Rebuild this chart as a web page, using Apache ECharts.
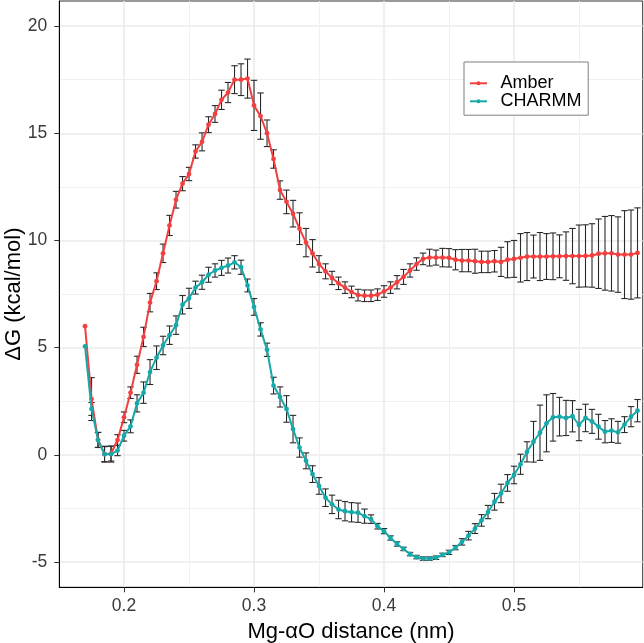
<!DOCTYPE html>
<html><head><meta charset="utf-8">
<script src="https://cdn.jsdelivr.net/npm/echarts@6/dist/echarts.min.js"></script>
<style>html,body{margin:0;padding:0;background:#fff}#c{width:644px;height:643px}</style>
</head><body><div id="c"></div>
<script>
// Mg-αO distance (nm)
const distance = [0.170,0.175,0.180,0.185,0.190,0.195,0.200,0.205,0.210,0.215,
0.220,0.225,0.230,0.235,0.240,0.245,0.250,0.255,0.260,0.265,
0.270,0.275,0.280,0.285,0.290,0.295,0.300,0.305,0.310,0.315,
0.320,0.325,0.330,0.335,0.340,0.345,0.350,0.355,0.360,0.365,
0.370,0.375,0.380,0.385,0.390,0.395,0.400,0.405,0.410,0.415,
0.420,0.425,0.430,0.435,0.440,0.445,0.450,0.455,0.460,0.465,
0.470,0.475,0.480,0.485,0.490,0.495,0.500,0.505,0.510,0.515,
0.520,0.525,0.530,0.535,0.540,0.545,0.550,0.555,0.560,0.565,
0.570,0.575,0.580,0.585,0.590,0.595];

const amberG = [6.0,2.6,0.7,0.03,0.06,0.69,1.75,2.9,4.2,5.5,
7.1,8.1,9.4,10.7,11.9,12.65,13.1,14.15,14.6,15.4,
15.9,16.56,16.9,17.5,17.5,17.55,16.3,15.8,15.0,13.8,
12.35,11.8,11.25,10.55,9.9,9.4,8.9,8.56,8.25,8.0,
7.8,7.6,7.45,7.42,7.42,7.47,7.62,7.8,8.05,8.3,
8.6,8.9,9.14,9.2,9.2,9.2,9.19,9.1,9.06,9.06,
9.03,9.0,9.0,9.03,9.0,9.1,9.14,9.19,9.25,9.25,
9.25,9.25,9.26,9.26,9.27,9.27,9.27,9.28,9.3,9.38,
9.4,9.4,9.34,9.34,9.34,9.42];

const amberErr = [0,1.0,0.35,0.35,0.35,0.25,0.25,0.27,0.4,0.45,
0.43,0.39,0.43,0.47,0.39,0.33,0.31,0.31,0.42,0.37,
0.39,0.45,0.47,0.65,0.74,0.91,1.17,1.08,0.62,0.43,
0.43,0.55,0.62,0.74,0.66,0.64,0.39,0.35,0.31,0.29,
0.27,0.27,0.27,0.27,0.27,0.27,0.27,0.27,0.31,0.35,
0.31,0.29,0.27,0.39,0.35,0.43,0.43,0.47,0.52,0.52,
0.56,0.5,0.5,0.5,0.68,0.84,0.86,1.13,1.12,1.0,
1.12,1.07,1.09,1.0,1.13,1.29,1.45,1.45,1.48,1.62,
1.72,1.76,1.76,2.05,2.08,2.1];

const charmmG = [5.06,2.14,0.69,0.03,0.03,0.2,0.89,1.33,2.4,2.9,
3.86,4.53,5.1,5.58,6.05,7.0,7.3,7.8,8.05,8.4,
8.6,8.72,8.83,8.98,8.75,7.9,6.9,5.85,4.9,3.23,
2.7,2.14,1.2,0.34,-0.28,-0.9,-1.45,-2.0,-2.31,-2.55,
-2.63,-2.68,-2.7,-2.86,-3.0,-3.33,-3.56,-3.88,-4.16,-4.39,
-4.63,-4.77,-4.84,-4.84,-4.8,-4.67,-4.55,-4.33,-4.06,-3.77,
-3.44,-3.06,-2.67,-2.19,-1.8,-1.31,-0.94,-0.44,0.14,0.61,
1.03,1.47,1.75,1.78,1.72,1.8,1.39,1.72,1.56,1.31,
1.08,1.13,1.05,1.41,1.78,2.06];

const charmmErr = [0,0.3,0.35,0.37,0.37,0.24,0.25,0.3,0.4,0.5,
0.58,0.55,0.43,0.43,0.43,0.43,0.47,0.3,0.33,0.35,
0.31,0.35,0.35,0.31,0.33,0.3,0.39,0.31,0.31,0.39,
0.47,0.62,0.64,0.45,0.37,0.39,0.39,0.41,0.43,0.43,
0.45,0.45,0.45,0.33,0.2,0.13,0.12,0.1,0.1,0.08,
0.08,0.08,0.08,0.08,0.08,0.08,0.1,0.1,0.15,0.2,
0.23,0.27,0.31,0.39,0.43,0.39,0.41,0.47,0.47,0.95,
1.29,1.33,1.11,0.9,0.82,0.73,0.73,0.64,0.56,0.58,
0.52,0.55,0.51,0.37,0.47,0.52];

const seriesNames = ['Amber', 'CHARMM'];
const xMajorTicks = [0.2, 0.3, 0.4, 0.5];
const xMinorTicks = [0.25, 0.35, 0.45, 0.55];
const yMajorTicks = [-5, 0, 5, 10, 15, 20];
const yMinorTicks = [-2.5, 2.5, 7.5, 12.5, 17.5];

const FONT = "'Liberation Sans', Arial, sans-serif";
const X_MIN = 0.1502, X_MAX = 0.599, Y_MIN = -6.18, Y_MAX = 21.17;
const COLORS = ['#F33F3F', '#16A9AA'];

function errSeries(vals, errs) {
  const data = distance.map((x, i) => [x, vals[i] - errs[i], vals[i] + errs[i], errs[i]]);
  return {
    type: 'custom', data: data, z: 1, silent: true,
    encode: { x: 0, y: [1, 2] },
    renderItem: function (params, api) {
      if (api.value(3) <= 0) return null;
      const x = api.value(0);
      const lo = api.coord([x, api.value(1)]);
      const hi = api.coord([x, api.value(2)]);
      const w = 3.2;
      const style = { stroke: '#2a2a2a', lineWidth: 1.1 };
      return { type: 'group', children: [
        { type: 'line', shape: { x1: lo[0], y1: lo[1], x2: hi[0], y2: hi[1] }, style: style },
        { type: 'line', shape: { x1: lo[0] - w, y1: lo[1], x2: lo[0] + w, y2: lo[1] }, style: style },
        { type: 'line', shape: { x1: hi[0] - w, y1: hi[1], x2: hi[0] + w, y2: hi[1] }, style: style }
      ]};
    }
  };
}

function lineSeries(name, vals, color, z) {
  return {
    type: 'line', name: name, z: z,
    data: distance.map((x, i) => [x, vals[i]]),
    symbol: 'circle', symbolSize: 4.8, showSymbol: true,
    lineStyle: { color: color, width: 2 },
    itemStyle: { color: color }
  };
}

const chart = echarts.init(document.getElementById('c'), null, { renderer: 'canvas' });
chart.setOption({
  animation: false,
  backgroundColor: '#fff',
  grid: { left: 59.3, right: 1.3, top: 1, bottom: 55.7, containLabel: false, outerBoundsMode: 'none',
          show: true, borderColor: '#333', borderWidth: 1, backgroundColor: '#fff' },
  xAxis: [{
    type: 'value', min: X_MIN, max: X_MAX, position: 'bottom',
    name: 'Mg-αO distance (nm)', nameLocation: 'middle', nameGap: 34, nameMoveOverlap: false,
    nameTextStyle: { fontFamily: FONT, fontSize: 22, color: '#000' },
    axisLine: { show: true, onZero: false, lineStyle: { color: '#000', width: 1 } },
    axisTick: { show: true, length: 5, customValues: xMajorTicks, lineStyle: { color: '#333' } },
    axisLabel: { customValues: xMajorTicks, margin: 10, fontFamily: FONT, fontSize: 17.5, color: '#3a3a3a', formatter: v => String(v) },
    splitLine: { show: true, lineStyle: { color: '#EBEBEB', width: 1.6 } }
  }, {
    type: 'value', min: X_MIN, max: X_MAX, position: 'top',
    axisLine: { show: false }, axisLabel: { show: false },
    axisTick: { show: false, customValues: xMinorTicks },
    splitLine: { show: true, lineStyle: { color: '#EEEEEE', width: 0.9 } }
  }],
  yAxis: [{
    type: 'value', min: Y_MIN, max: Y_MAX, position: 'left',
    name: 'ΔG (kcal/mol)', nameLocation: 'middle', nameGap: 34, nameMoveOverlap: false,
    nameTextStyle: { fontFamily: FONT, fontSize: 22, color: '#000' },
    axisLine: { show: true, onZero: false, lineStyle: { color: '#000', width: 1 } },
    axisTick: { show: true, length: 5, customValues: yMajorTicks, lineStyle: { color: '#333' } },
    axisLabel: { customValues: yMajorTicks, margin: 12, fontFamily: FONT, fontSize: 17.5, color: '#3a3a3a', formatter: v => String(v) },
    splitLine: { show: true, lineStyle: { color: '#EBEBEB', width: 1.6 } }
  }, {
    type: 'value', min: Y_MIN, max: Y_MAX, position: 'right',
    axisLine: { show: false }, axisLabel: { show: false },
    axisTick: { show: false, customValues: yMinorTicks },
    splitLine: { show: true, lineStyle: { color: '#EEEEEE', width: 0.9 } }
  }],
  legend: {
    data: seriesNames, orient: 'vertical', left: 464, top: 62,
    padding: [12.3, 6.6, 4.9, 5], itemGap: 0, itemWidth: 17, itemHeight: 5,
    backgroundColor: '#fff', borderColor: '#7f7f7f', borderWidth: 1,
    textStyle: { fontFamily: FONT, fontSize: 18, color: '#000', lineHeight: 17.4, padding: [0, 0, 0, 8.6] }
  },
  series: [
    errSeries(amberG, amberErr),
    errSeries(charmmG, charmmErr),
    lineSeries(seriesNames[0], amberG, COLORS[0], 3),
    lineSeries(seriesNames[1], charmmG, COLORS[1], 4)
  ]
});
</script></body></html>
